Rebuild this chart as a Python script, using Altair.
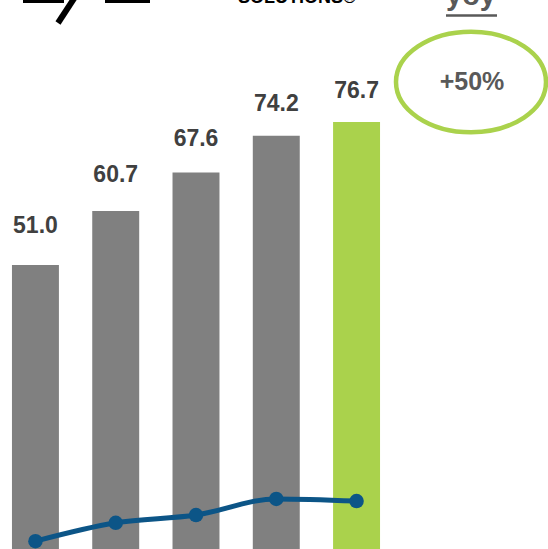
import altair as alt
import pandas as pd

periods = ["P1", "P2", "P3", "P4", "P5"]
bar_values = [51.0, 60.7, 67.6, 74.2, 76.7]
bar_kind = ["past", "past", "past", "past", "current"]
line_values = [1.4, 4.7, 6.1, 9.0, 8.6]
yoy_label = "yoy"
yoy_value = "+50%"
logo_text = "SOLUTIONS®"

df = pd.DataFrame({
    "period": periods,
    "value": bar_values,
    "kind": bar_kind,
    "line": line_values,
    "label": [f"{v:.1f}" for v in bar_values],
})

FONT = "Liberation Sans"
xenc = alt.X("period:N", sort=None, axis=None,
             scale=alt.Scale(range=[0, 392], paddingInner=0.415, paddingOuter=0.149))
yscale = alt.Scale(domain=[0, 98.6], nice=False, zero=False)

base = alt.Chart(df).encode(x=xenc)

bars = base.mark_bar().encode(
    y=alt.Y("value:Q", scale=yscale, axis=None),
    color=alt.Color("kind:N", legend=None,
                    scale=alt.Scale(domain=["past", "current"], range=["#808080", "#AAD24C"])),
)

labels = base.mark_text(font=FONT, fontSize=23, fontWeight="bold", color="#404040",
                        baseline="alphabetic").encode(
    y=alt.Y("value:Q", axis=None, scale=alt.Scale(domain=[-9.2, 95.4], nice=False, zero=False)),
    text="label:N",
)

line = base.mark_line(interpolate="monotone", color="#0C5587", strokeWidth=5).encode(
    y=alt.Y("line:Q", scale=yscale, axis=None),
)
points = base.mark_circle(size=210, opacity=1, color="#0C5587").encode(
    y=alt.Y("line:Q", scale=yscale, axis=None),
)

ann = pd.DataFrame({"t": [yoy_value], "y": [yoy_label], "logo": [logo_text]})
ellipse_path = "M -1 0 A 1 0.67 0 1 1 1 0 A 1 0.67 0 1 1 -1 0 Z"
ellipse = alt.Chart(ann).mark_point(shape=ellipse_path, size=22500, filled=False,
                                    stroke="#AAD24C", strokeWidth=4.5, opacity=1).encode(
    x=alt.value(471), y=alt.value(82))
pct = alt.Chart(ann).mark_text(font=FONT, fontSize=25, fontWeight="bold", color="#595959",
                               baseline="middle", align="center").encode(
    x=alt.value(472), y=alt.value(82), text="t:N")
yoy = alt.Chart(ann).mark_text(font=FONT, fontSize=29, fontWeight="bold", color="#595959",
                               baseline="alphabetic", align="center").encode(
    x=alt.value(471), y=alt.value(5), text="y:N")
underline = alt.Chart(ann).mark_rule(color="#595959", strokeWidth=2.5).encode(
    x=alt.value(446), x2=alt.value(497), y=alt.value(15.5))
logo = alt.Chart(ann).mark_text(font=FONT, fontSize=18, fontWeight="bold", color="#000000",
                                baseline="alphabetic", align="left").encode(
    x=alt.value(238), y=alt.value(3), text="logo:N")
slash = alt.Chart(ann).mark_rule(color="#000000", strokeWidth=6).encode(
    x=alt.value(58), x2=alt.value(75), y=alt.value(23), y2=alt.value(-3))
logo_bar1 = alt.Chart(ann).mark_rule(color="#000000", strokeWidth=6).encode(
    x=alt.value(23), x2=alt.value(64), y=alt.value(0), y2=alt.value(0))
logo_bar2 = alt.Chart(ann).mark_rule(color="#000000", strokeWidth=6).encode(
    x=alt.value(105), x2=alt.value(150), y=alt.value(0), y2=alt.value(0))

chart = alt.layer(
    bars, labels, line, points, ellipse, pct, yoy, underline, logo, slash, logo_bar1, logo_bar2
).resolve_scale(y="independent").properties(
    width=548, height=549, autosize=alt.AutoSizeParams(type="none"), padding=0,
    background="#FFFFFF",
).configure_view(stroke=None)

chart.save("out.html", embed_options={"renderer": "svg", "actions": False})
